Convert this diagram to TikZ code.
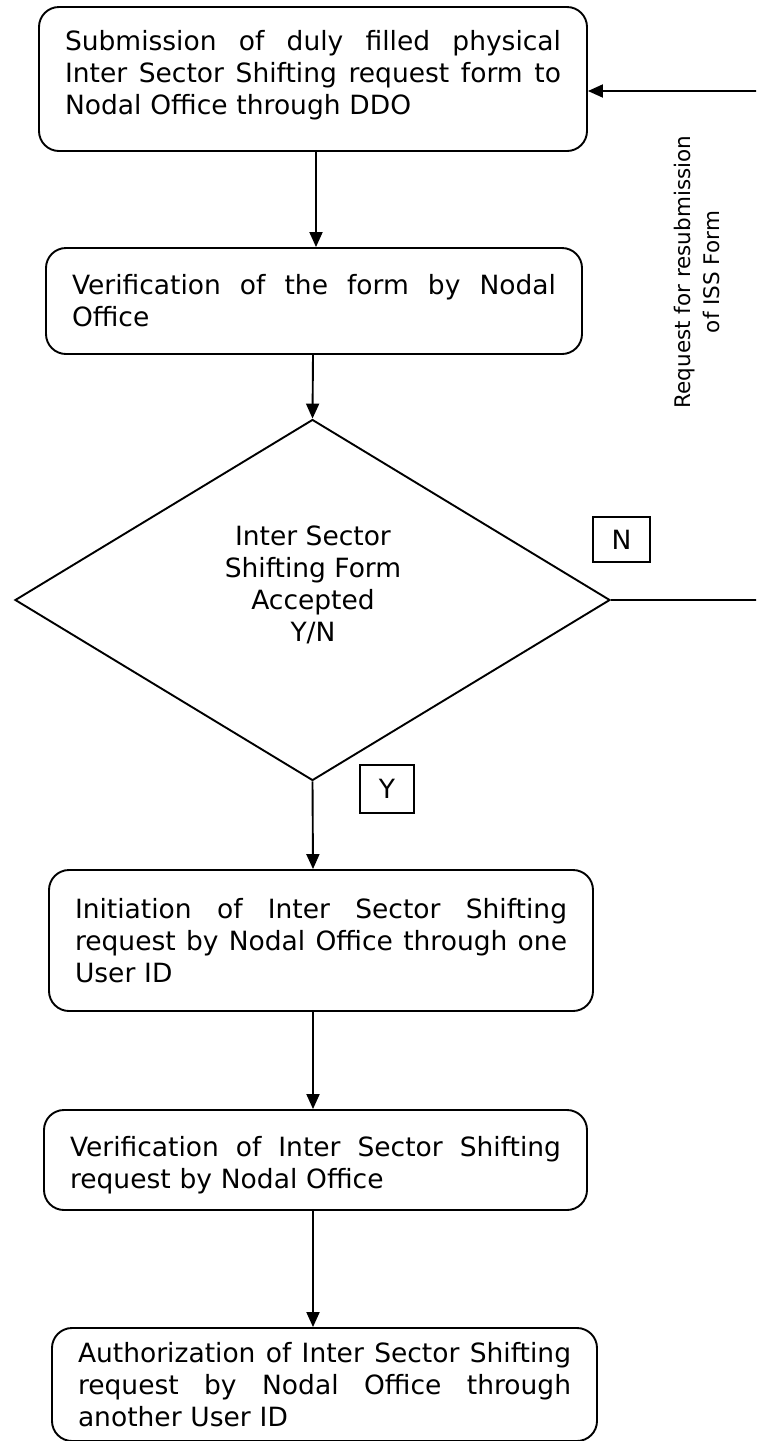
\documentclass[tikz,border=0pt]{standalone}
\usepackage{fontspec}
\setmainfont{DejaVu Sans}
\usetikzlibrary{shapes.geometric,arrows.meta,calc}
\newcommand\boxfont{\fontsize{26.5}{32}\selectfont}
\newcommand\lblfont{\fontsize{21.5}{29}\selectfont}
\newcommand\J[2]{\leavevmode\hbox to #1{\spaceskip=0.318em plus 1fil\relax #2}}
\tikzset{
  procbox/.style={draw, line width=1.9pt, rounded corners=20pt, align=left,
    font=\boxfont, inner xsep=26pt, inner ysep=0pt, text width=#1},
  decision/.style={draw, diamond, line width=1.9pt, inner sep=0pt},
  tagbox/.style={draw, line width=1.5pt, font=\boxfont, inner sep=0pt},
  arr/.style={line width=1.9pt, -{Triangle[length=15pt,width=13pt]}}
}
\begin{document}
\begin{tikzpicture}[x=1pt,y=-1pt]
\useasboundingbox (0,0) rectangle (756,1441);
\clip (0,0) rectangle (756,1441);

\node[procbox=496pt, minimum height=144pt] (box1) at (313,79)
  {\J{496pt}{Submission of duly filled physical}\\
   \J{496pt}{Inter Sector Shifting request form to}\\
   Nodal Office through DDO\rule[-14pt]{0pt}{14pt}};

\node[procbox=484pt, minimum height=106pt] (box2) at (314,301)
  {\J{484pt}{Verification of the form by Nodal}\\
   Office};

\node[decision, minimum width=595pt, minimum height=361pt] (dia) at (312.5,600) {};
\node[font=\boxfont, align=center] (dtext) at (313,585)
  {Inter Sector\\Shifting Form\\Accepted\\Y/N};

\node[procbox=492pt, minimum height=141pt] (box3) at (321,940.5)
  {\J{492pt}{Initiation of Inter Sector Shifting}\\
   \J{492pt}{request by Nodal Office through one}\\
   User ID};

\node[procbox=491pt, minimum height=100pt] (box4) at (315.5,1160)
  {\J{491pt}{\rule{0pt}{30pt}Verification of Inter Sector Shifting}\\
   request by Nodal Office};

\node[procbox=493pt, minimum height=113pt] (box5) at (324.5,1384.5)
  {\J{493pt}{Authorization of Inter Sector Shifting}\\
   \J{493pt}{request by Nodal Office through}\\
   another User ID};

\node[tagbox, minimum width=57pt, minimum height=45pt] (nbox) at (621.5,539.5) {N};
\node[tagbox, minimum width=54pt, minimum height=48pt] (ybox) at (387,789) {Y};

\node[font=\lblfont, align=center, rotate=90] (fblabel) at (697,272)
  {Request for resubmission\\of ISS Form};

\coordinate (a1) at (316,0);
\coordinate (a2) at (313,0);
\coordinate (fb) at (758,0);

\draw[arr] (box1.south -| a1) -- (box2.north -| a1);
\draw[arr] (box2.south -| a2) -- (dia.north);
\draw[arr] (dia.south) -- (box3.north -| a2);
\draw[arr] (box3.south -| a2) -- (box4.north -| a2);
\draw[arr] (box4.south -| a2) -- (box5.north -| a2);
\draw[arr] (dia.east) -- (dia.east -| fb) |- ($(box1.east)+(0,12)$);
\end{tikzpicture}
\end{document}
